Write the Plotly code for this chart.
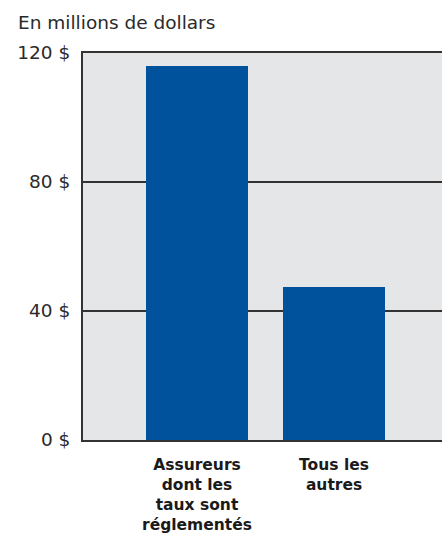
import plotly.graph_objects as go

# Category labels (multi-line) and values, in millions of dollars
categories = ["Assureurs<br>dont les<br>taux sont<br>réglementés", "Tous les<br>autres"]
values = [116, 47.5]

tick_values = [0, 40, 80, 120]
tick_labels = ["0 $", "40 $", "80 $", "120 $"]

BAR_COLOR = "#00529c"
PLOT_BG = "#e5e6e8"
LINE_COLOR = "#333333"
FONT = "DejaVu Sans, Verdana, sans-serif"

fig = go.Figure(
    go.Bar(
        x=[0, 1],
        y=values,
        width=0.745,
        marker=dict(color=BAR_COLOR, line=dict(width=0)),
        hoverinfo="skip",
    )
)

fig.update_layout(
    width=442,
    height=539,
    margin=dict(l=83, r=0, t=53, b=99),
    paper_bgcolor="white",
    plot_bgcolor=PLOT_BG,
    showlegend=False,
    font=dict(family=FONT, color="#222222"),
    bargap=0,
)

fig.update_xaxes(
    range=[-0.832, 1.788],
    tickmode="array",
    tickvals=[0, 1],
    ticktext=["<b>" + c + "</b>" for c in categories],
    tickfont=dict(size=15.5, color="#1a1a1a"),
    showgrid=False,
    zeroline=False,
    showline=True,
    mirror=True,
    linecolor=LINE_COLOR,
    linewidth=2,
    ticks="",
    ticklabelstandoff=9,
    fixedrange=True,
)

fig.update_yaxes(
    range=[0, 120],
    tickmode="array",
    tickvals=tick_values,
    ticktext=tick_labels,
    tickfont=dict(size=18.5, color="#2a2a2a"),
    showgrid=True,
    gridcolor=LINE_COLOR,
    gridwidth=1.5,
    zeroline=False,
    showline=True,
    linecolor=LINE_COLOR,
    linewidth=2,
    ticks="",
    ticklabelstandoff=7,
    fixedrange=True,
)

fig.add_annotation(
    text="En millions de dollars",
    xref="paper", yref="paper",
    x=0, y=1,
    xanchor="left", yanchor="middle",
    xshift=-67, yshift=31,
    showarrow=False,
    font=dict(size=18.5, color="#2a2a2a"),
)

fig.write_html("out.html", config={"displayModeBar": False})
